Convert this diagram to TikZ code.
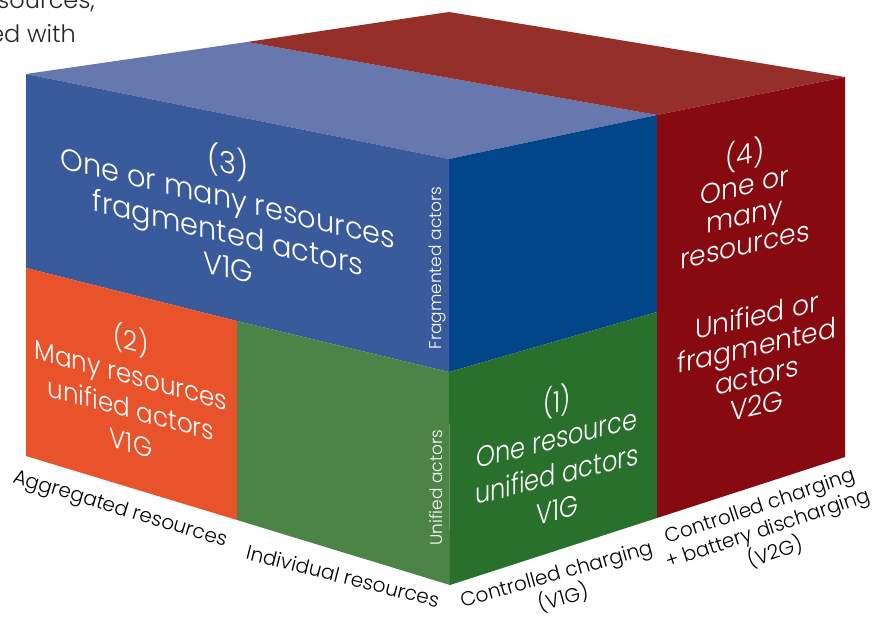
\documentclass[tikz,border=0pt]{standalone}
\usepackage{fontspec}
\IfFontExistsTF{Poppins Light}{\setmainfont{Poppins Light}}{\setmainfont{Poppins}}
\definecolor{topblue}{HTML}{6678AD}
\definecolor{leftblue}{HTML}{3A5B9B}
\definecolor{rightblue}{HTML}{02468A}
\definecolor{orangeface}{HTML}{E8532B}
\definecolor{greenleft}{HTML}{4C8447}
\definecolor{greenright}{HTML}{2A702D}
\definecolor{redright}{HTML}{860A10}
\definecolor{redtop}{HTML}{943029}
\begin{document}
\begin{tikzpicture}[x=1pt,y=-1pt,
  ftext/.style={text=white,align=center,inner sep=0pt,transform shape},
  axlabel/.style={text=black,align=center,inner sep=0pt,font=\fontsize{20}{24}\selectfont},
  sidelabel/.style={text=white,inner sep=0pt,font=\fontsize{17}{20}\selectfont,rotate=90},
  bgtext/.style={text=black!85,inner sep=0pt,font=\fontsize{24}{34}\selectfont,anchor=base east}]
\useasboundingbox (0,0) rectangle (877,618);
% corners
\coordinate (LT) at (26,74);
\coordinate (BK) at (449,12);
\coordinate (RT) at (845,77);
\coordinate (FT) at (449,159);
\coordinate (BM) at (247,42);
\coordinate (TF) at (657,115);
\coordinate (LM) at (26,268);
\coordinate (OM) at (237,321);
\coordinate (FM) at (449,372);
\coordinate (RM) at (657,312);
\coordinate (LB) at (26,456);
\coordinate (OB) at (237,520);
\coordinate (FB) at (450,585);
\coordinate (RDB) at (657,518);
\coordinate (RB) at (845,457);
% faces
\fill[topblue] (LT) -- (BM) -- (TF) -- (FT) -- cycle;
\fill[redtop] (BM) -- (BK) -- (RT) -- (TF) -- cycle;
\fill[leftblue] (LT) -- (FT) -- (FM) -- (OM) -- (LM) -- cycle;
\fill[orangeface] (LM) -- (OM) -- (OB) -- (LB) -- cycle;
\fill[greenleft] (OM) -- (FM) -- (FB) -- (OB) -- cycle;
\fill[rightblue] (FT) -- (TF) -- (RM) -- (FM) -- cycle;
\fill[greenright] (FM) -- (RM) -- (RDB) -- (FB) -- cycle;
\fill[redright] (TF) -- (RT) -- (RB) -- (RDB) -- cycle;
% face texts
\begin{scope}[shift={(228,212)},yslant=-0.24,xscale=0.96]
  \node[ftext,font=\fontsize{30}{35}\selectfont] (t3) at (0,0) {(3)\\One or many resources\\fragmented actors\\V1G};
\end{scope}
\begin{scope}[shift={(131,389)},yslant=-0.27,xscale=0.91]
  \node[ftext,font=\fontsize{27}{34}\selectfont] (t2) at (0,0) {(2)\\Many resources\\unified actors\\V1G};
\end{scope}
\begin{scope}[shift={(557,453)},yslant=0.25,xscale=0.83]
  \node[ftext,font=\fontsize{29}{36}\selectfont] (t1) at (0,0) {(1)\\One resource\\unified actors\\V1G};
\end{scope}
\begin{scope}[shift={(745,197)},yslant=0.23,xscale=0.95]
  \node[ftext,font=\fontsize{28}{30}\selectfont] (t4a) at (0,0) {(4)\\One or\\many\\resources};
\end{scope}
\begin{scope}[shift={(757,360)},yslant=0.23,xscale=0.95]
  \node[ftext,font=\fontsize{28}{30}\selectfont] (t4b) at (0,0) {Unified or\\fragmented\\actors\\V2G};
\end{scope}
% side labels
\node[sidelabel] (fa) at (437,268) {Fragmented actors};
\node[sidelabel] (ua) at (436,488) {Unified actors};
% axis labels
\node[axlabel,rotate=-16.8] (ag) at (120,510) {Aggregated resources};
\node[axlabel,rotate=-14.2] (ind) at (343,576) {Individual resources};
\node[axlabel,rotate=15.7] (v1g) at (560,587) {Controlled charging\\(V1G)};
\node[axlabel,rotate=18.5] (v2g) at (768,530) {Controlled charging\\+ battery discharging\\(V2G)};
% surrounding text
\node[bgtext] (s1) at (95,9) {sources,};
\node[bgtext] (s2) at (76,43) {ed with};
\end{tikzpicture}
\end{document}
